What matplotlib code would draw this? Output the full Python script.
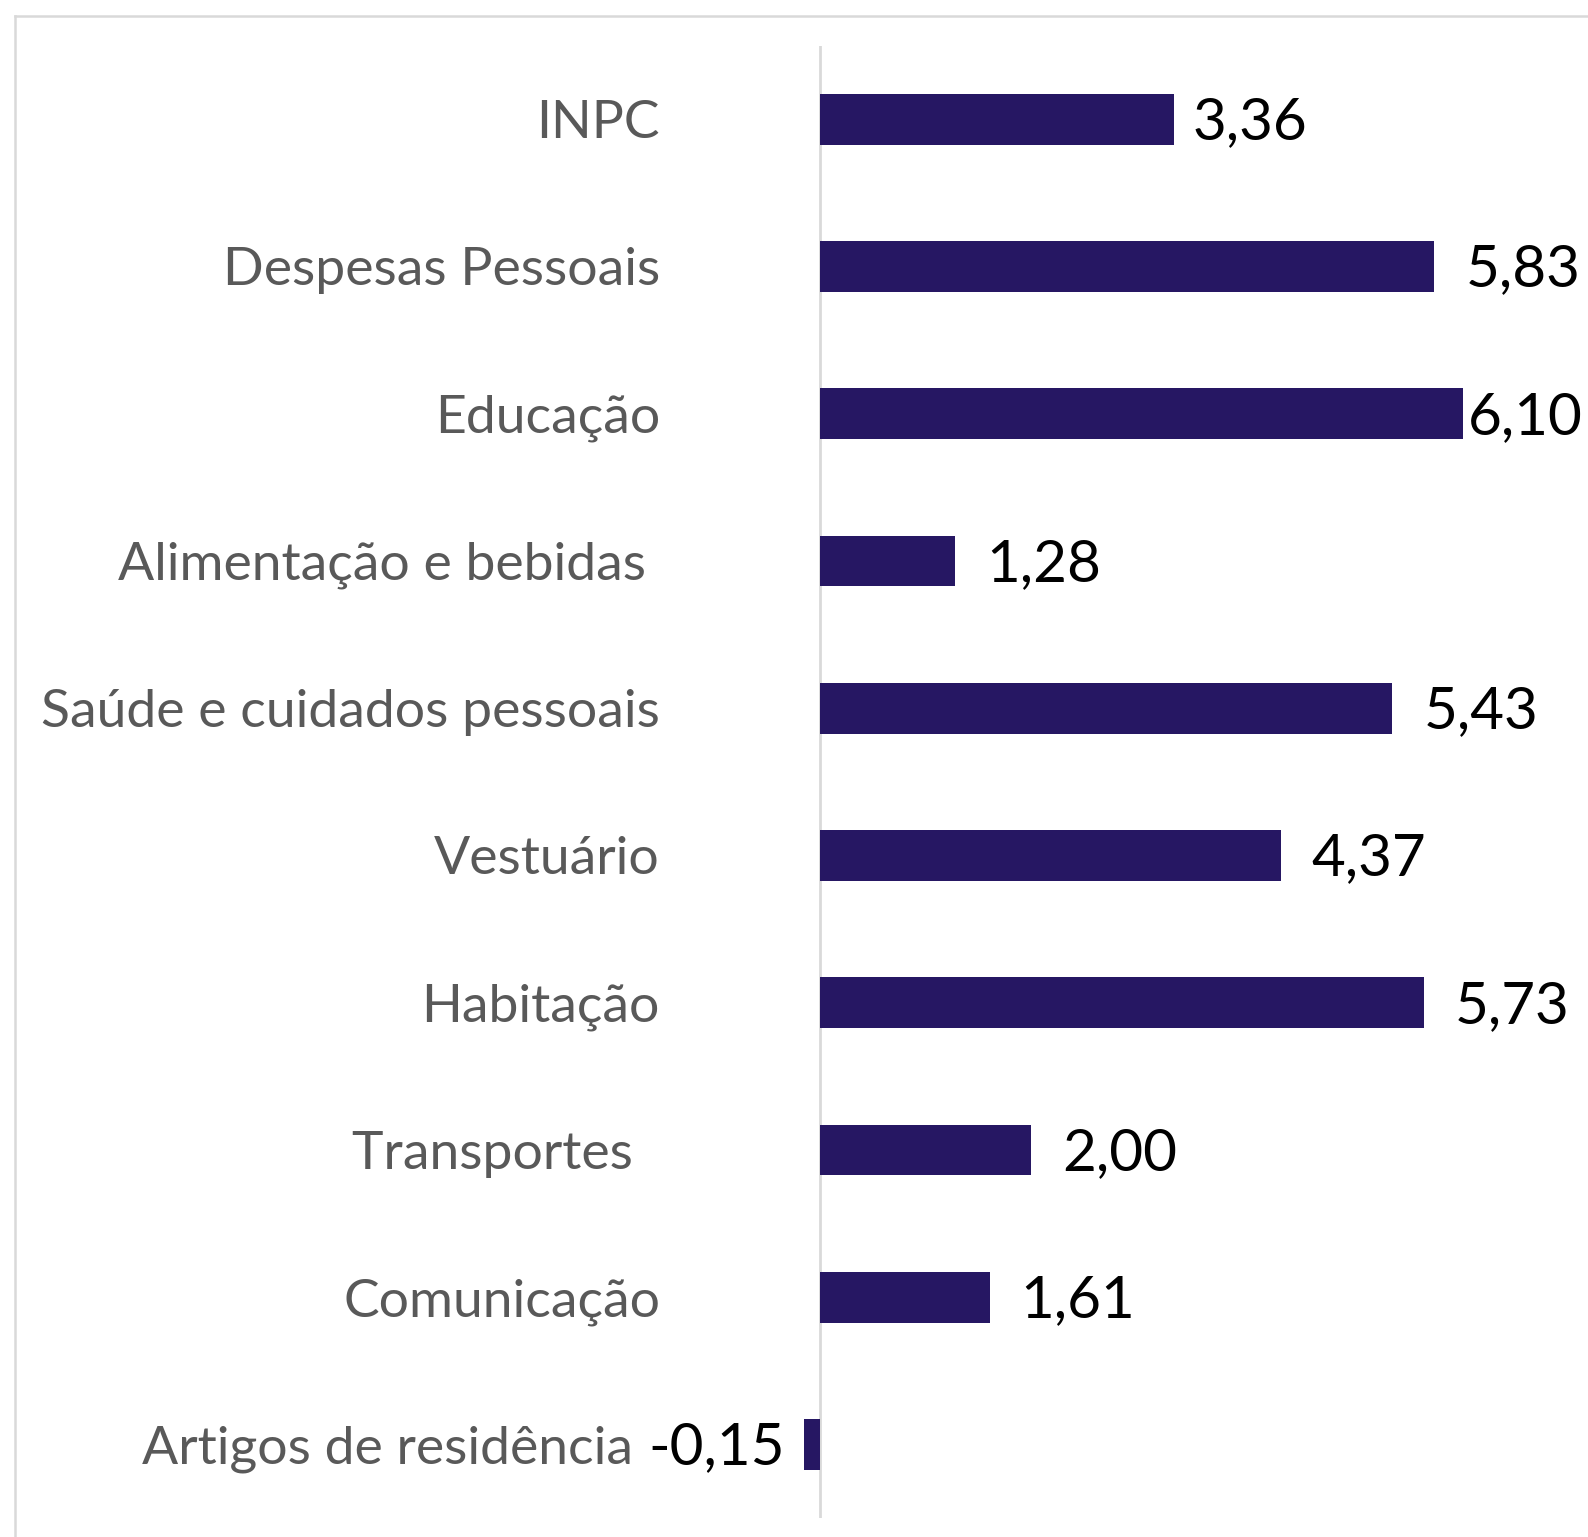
import matplotlib.pyplot as plt
from matplotlib.lines import Line2D
from matplotlib.transforms import ScaledTranslation

# data, top to bottom as in the chart
categories = ["INPC", "Despesas Pessoais", "Educação", "Alimentação e bebidas ",
              "Saúde e cuidados pessoais", "Vestuário", "Habitação", "Transportes  ",
              "Comunicação", "Artigos de residência  "]
values = [3.36, 5.83, 6.10, 1.28, 5.43, 4.37, 5.73, 2.00, 1.61, -0.15]
value_labels = ["3,36", "5,83", "6,10", "1,28", "5,43", "4,37", "5,73", "2,00", "1,61", "-0,15"]

W, H = 1588, 1537
fig = plt.figure(figsize=(W / 100, H / 100), dpi=100)

# plot area in pixels: zero line at x=820, 105.4 px per unit
zero_px = 820
px_per_unit = 105.4
left_px, right_px = 680, W
top_px, bottom_px = 45.6, 1518
ax = fig.add_axes([left_px / W, 1 - bottom_px / H,
                   (right_px - left_px) / W, (bottom_px - top_px) / H])
ax.set_xlim(-(zero_px - left_px) / px_per_unit, (right_px - zero_px) / px_per_unit)

n = len(categories)
ypos = list(range(n))
ax.barh(ypos, values, height=0.345, color="#261763", zorder=3)
ax.set_ylim(n - 0.5, -0.5)
ax.axvline(0, color="#d9d9d9", lw=2, zorder=2)

ax.set_yticks(ypos)
ax.set_yticklabels(categories, fontsize=38.5, color="#595959", family="Lato")
ax.tick_params(axis="y", length=0, pad=14.4)
ax.tick_params(axis="x", bottom=False, labelbottom=False)
for s in ax.spines.values():
    s.set_visible(False)

# value labels, gaps in pixels as placed in the original
gaps = {0: 18, 2: 5, 9: 19}
shift = ax.transData + ScaledTranslation(0, -0.035, fig.dpi_scale_trans)
for i, (v, lab) in enumerate(zip(values, value_labels)):
    g = gaps.get(i, 31) / px_per_unit
    if v >= 0:
        ax.text(v + g, i, lab, ha="left", va="center", fontsize=42,
                family="Lato", color="black", clip_on=False, transform=shift)
    else:
        ax.text(v - g, i, lab, ha="right", va="center", fontsize=42,
                family="Lato", color="black", clip_on=False, transform=shift)

# chart border (left and top visible)
fig.add_artist(Line2D([15 / W, 15 / W], [0, 1 - 16 / H], transform=fig.transFigure,
                      color="#d9d9d9", lw=1.8))
fig.add_artist(Line2D([15 / W, 1], [1 - 16 / H, 1 - 16 / H], transform=fig.transFigure,
                      color="#d9d9d9", lw=1.8))

fig.savefig("out.png", dpi=100)
